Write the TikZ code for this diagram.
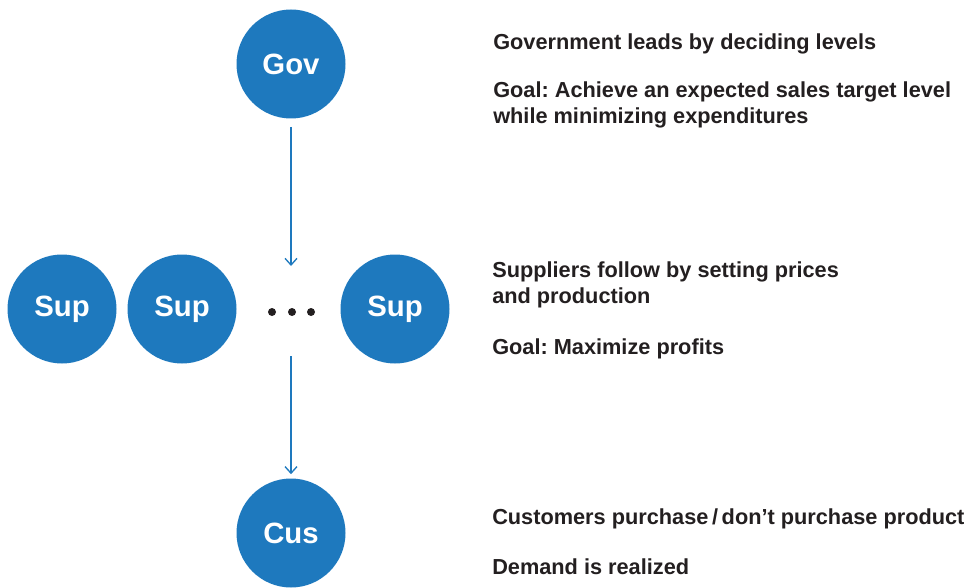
\documentclass[tikz,border=0pt]{standalone}
\usepackage{fontspec}
\setmainfont{Liberation Sans}
\usetikzlibrary{arrows.meta}
\definecolor{agentblue}{RGB}{30,121,190}
\definecolor{inkgray}{RGB}{35,31,32}
\frenchspacing

\begin{document}
\begin{tikzpicture}[x=0.75pt,y=-0.75pt,
		agent/.style={circle,fill=agentblue,minimum size=81.75pt,inner sep=0pt,text=white,font=\fontsize{22}{26}\selectfont\bfseries},
		note/.style={anchor=base west,align=left,inner sep=0pt,text=inkgray,font=\fontsize{16.3}{19.5}\selectfont\bfseries},
		flow/.style={-{Straight Barb[length=5pt,width=9pt]},agentblue,line width=1pt}]
		\useasboundingbox (0,0) rectangle (967,588);

		% players
		\node[agent] (gov) at (291,64) {Gov};
		\node[agent] (sup1) at (62,309) {Sup};
		\node[agent] (sup2) at (182,309) {Sup};
		\node[agent] (supn) at (395,309) {Sup};
		\node[agent] (cus) at (291,533) {Cus};
		\foreach \x in {272,292,311}
			\fill[inkgray] (\x,312) circle (3pt);

		% moves
		\coordinate (into) at (291,266);
		\coordinate (outof) at (291,356);
		\draw[flow, shorten <=6pt] (gov) -- (into);
		\draw[flow, shorten >=3pt] (outof) -- (cus);

		% descriptions (base = last line)
		\node[note] (govlead) at (493,50) {Government leads by deciding levels};
		\node[note] (govgoal) at (493,124) {Goal: Achieve an expected sales target level\\while minimizing expenditures};
		\node[note] (suplead) at (492,303) {Suppliers follow by setting prices\\and production};
		\node[note] (supgoal) at (492,354) {Goal: Maximize profits};
		\node[note] (cusact) at (492,524) {Customers purchase\,/\,don’t purchase product};
		\node[note] (cusdem) at (492,574) {Demand is realized};
	\end{tikzpicture}
\end{document}
